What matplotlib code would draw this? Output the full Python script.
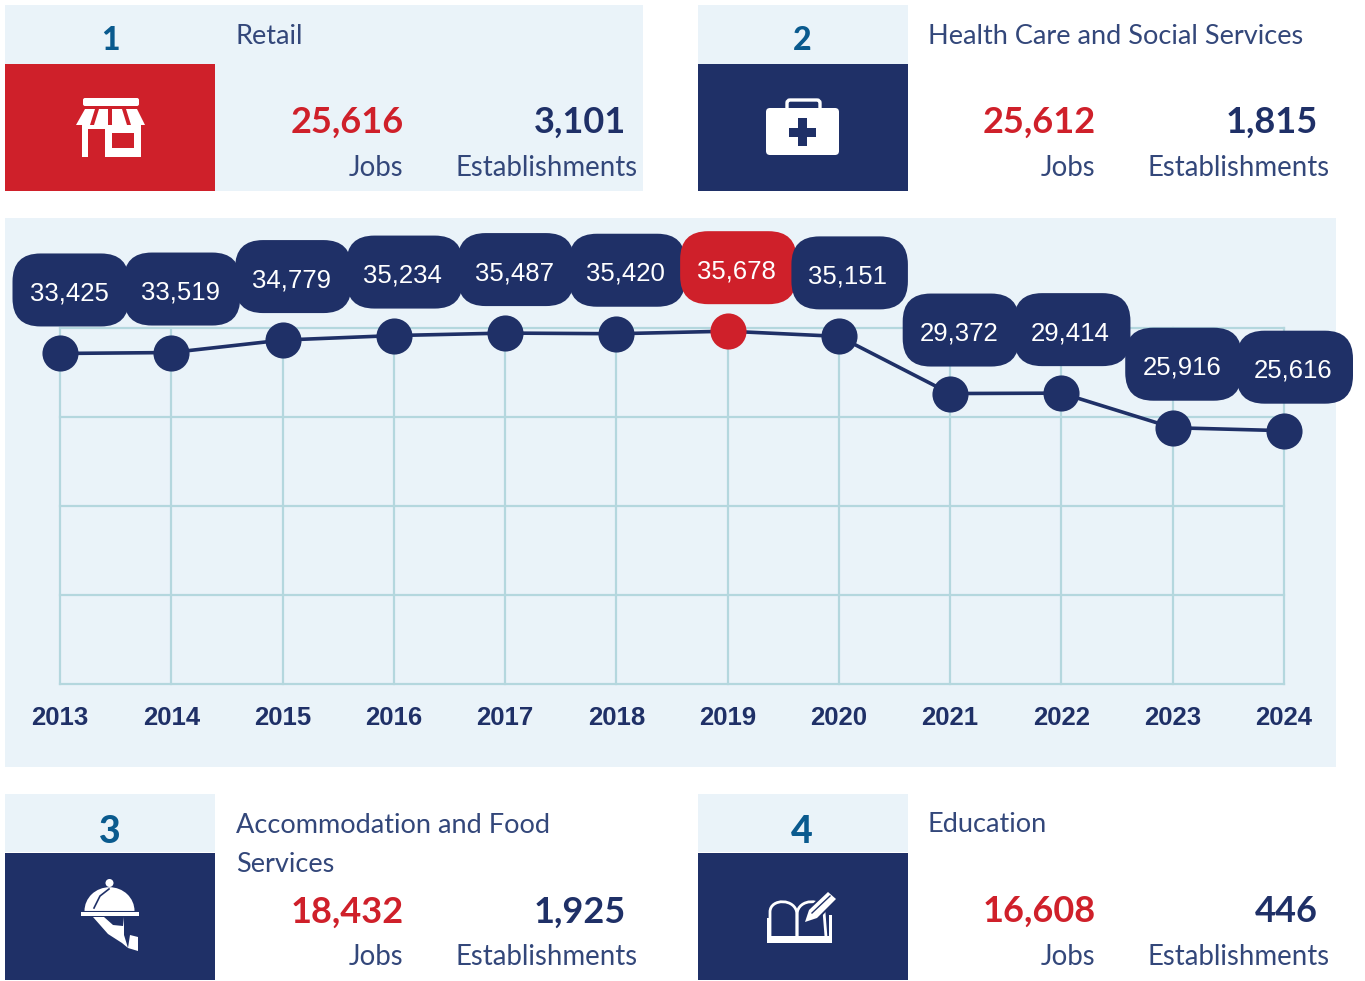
from matplotlib import pyplot as plt
from matplotlib.patches import Rectangle, FancyBboxPatch, Polygon, Circle, PathPatch, Wedge
from matplotlib.path import Path
from matplotlib.transforms import Affine2D

W, H = 1365, 981
NAVY = '#1F3067'
RED = '#CF202A'
PALE = '#EAF3F9'
GRID = '#B4D7DE'
RANK = '#0A5A8E'
LABEL = '#33477A'

years = [2013, 2014, 2015, 2016, 2017, 2018, 2019, 2020, 2021, 2022, 2023, 2024]
jobs = [33425, 33519, 34779, 35234, 35487, 35420, 35678, 35151, 29372, 29414, 25916, 25616]
peak_year = 2019

ranks = ['1', '2', '3', '4']
sectors = ['Retail', 'Health Care and Social Services',
           'Accommodation and Food\nServices', 'Education']
sector_jobs = ['25,616', '25,612', '18,432', '16,608']
sector_estab = ['3,101', '1,815', '1,925', '446']

fig = plt.figure(figsize=(W / 100, H / 100), dpi=100, facecolor='white')

# whole page in image pixels, y going down
page = fig.add_axes([0, 0, 1, 1], zorder=0)
page.set_xlim(0, W)
page.set_ylim(H, 0)
page.axis('off')


def box(x0, y0, x1, y1, color):
    page.add_patch(Rectangle((x0, y0), x1 - x0, y1 - y0, fc=color, ec='none'))


def store_icon():
    w = 'white'
    page.add_patch(FancyBboxPatch((83, 98), 56, 8, boxstyle='round,pad=0,rounding_size=2', fc=w, ec='none'))
    top = [83, 97, 110, 124, 139]
    bot = [74, 92, 110, 129, 147]
    for i in range(4):
        gap = 2
        page.add_patch(Polygon([(top[i] + gap, 109), (top[i + 1] - gap, 109),
                                (bot[i + 1] - gap, 125), (bot[i] + gap, 125)], fc=w, ec='none'))
    box(82, 125, 141, 129, w)
    box(82, 125, 88, 157, w)
    box(105, 125, 141, 157, w)
    box(112, 133, 134, 148, RED)


def medkit_icon():
    w = 'white'
    page.add_patch(FancyBboxPatch((787, 100), 33, 14, boxstyle='round,pad=0,rounding_size=3',
                                  fc='none', ec=w, lw=2.4))
    page.add_patch(FancyBboxPatch((766, 108), 73, 47, boxstyle='round,pad=0,rounding_size=4', fc=w, ec='none'))
    box(789, 127.5, 816, 137, NAVY)
    box(798, 118, 807, 146, NAVY)


def cloche_icon():
    w = 'white'
    page.add_patch(Circle((109.5, 883), 4, fc=w, ec='none'))
    page.add_patch(Wedge((109.5, 911), 25, 180, 360, fc=w, ec='none',
                         transform=Affine2D().scale(1, 0.95).translate(0, 45.5) + page.transData))
    page.plot([94, 100, 109], [908, 896, 889], color=NAVY, lw=1.2)
    box(81, 912, 139, 916, w)
    page.add_patch(Polygon([(93, 917), (104, 917), (113, 925), (123, 926), (124, 917), (124, 935),
                            (128, 948), (122, 943), (108, 934)], fc=w, ec='none'))
    page.add_patch(Polygon([(130, 935), (138, 937), (138, 951), (128, 948)], fc=w, ec='none'))


def book_icon():
    w = 'white'
    left = Path([(770, 937), (770, 912), (770, 898), (796, 898), (797, 914), (797, 937)],
                [Path.MOVETO, Path.LINETO, Path.CURVE4, Path.CURVE4, Path.CURVE4, Path.LINETO])
    right = Path([(797, 937), (797, 914), (798, 898), (824, 898), (824, 912), (826, 937)],
                 [Path.MOVETO, Path.LINETO, Path.CURVE4, Path.CURVE4, Path.CURVE4, Path.LINETO])
    page.add_patch(PathPatch(left, fc='none', ec=w, lw=2))
    page.add_patch(PathPatch(right, fc='none', ec=w, lw=2))
    box(767, 936, 832, 943, w)
    box(767, 918, 770, 943, w)
    box(829, 915, 832, 943, w)
    page.add_patch(Polygon([(803, 925), (808, 908), (829, 889), (839, 898), (819, 919)], fc=NAVY, ec='none'))
    page.add_patch(Polygon([(805, 922), (809, 910), (828, 892), (836, 899), (817, 918)], fc=w, ec='none'))
    page.plot([812, 830], [913, 896], color=NAVY, lw=1)


# pale backgrounds and icon squares
box(5, 5, 643, 191, PALE)
box(5, 64, 215, 191, RED)
box(698, 5, 908, 64, PALE)
box(698, 64, 908, 191, NAVY)
box(5, 794, 215, 852, PALE)
box(5, 853, 215, 980, NAVY)
box(698, 794, 908, 852, PALE)
box(698, 853, 908, 980, NAVY)
box(5, 218, 1336, 767, PALE)

store_icon()
medkit_icon()
cloche_icon()
book_icon()

# text blocks of the four sector panels
panel_x = [0, 692, 0, 692]
panel_y = [0, 0, 789, 789]
rank_y = [40, 40, 832, 832]
rank_size = [23, 23, 27, 27]
num_y = [122, 122, 912, 911]
for i in range(4):
    dx, dy = panel_x[i], panel_y[i]
    page.text(110 + dx, rank_y[i], ranks[i], color=RANK, fontsize=rank_size[i], family='Lato',
              weight='black', ha='center', va='center')
    title_y = 845 if i == 2 else 36 + dy
    page.text(236 + dx, title_y, sectors[i], color=LABEL, fontsize=19.5, family='Lato',
              ha='left', va='center', linespacing=1.7)
    page.text(404 + dx, num_y[i], sector_jobs[i], color=RED, fontsize=26, family='Lato',
              weight='bold', ha='right', va='center')
    page.text(626 + dx, num_y[i], sector_estab[i], color=NAVY, fontsize=26, family='Lato',
              weight='bold', ha='right', va='center')
    page.text(403 + dx, 168 + dy, 'Jobs', color=LABEL, fontsize=19.9, family='Lato',
              ha='right', va='center')
    page.text(638 + dx, 168 + dy, 'Establishments', color=LABEL, fontsize=19.9, family='Lato',
              ha='right', va='center')

# line chart on its own axes
ax = fig.add_axes([60 / W, (H - 684) / H, 1224 / W, 356 / H], zorder=1)
ax.set_facecolor('none')
ax.set_xlim(2013, 2024)
ax.set_ylim(0, 36000)
ax.set_xticks(years)
ax.set_yticks(range(0, 36001, 9000))
ax.set_yticklabels([])
ax.grid(True, color=GRID, lw=1.6)
ax.set_axisbelow(True)
for line in ax.get_xgridlines() + ax.get_ygridlines():
    line.set_clip_on(False)
for s in ax.spines.values():
    s.set_visible(False)
ax.tick_params(length=0, pad=15.7)
for t in ax.get_xticklabels():
    t.set_family('Liberation Sans')
    t.set_weight('bold')
    t.set_fontsize(18.5)
    t.set_color(NAVY)

ax.plot(years, jobs, color=NAVY, lw=2.6, zorder=3, clip_on=False)
for k, (yr, val) in enumerate(zip(years, jobs)):
    col = RED if yr == peak_year else NAVY
    ax.plot([yr], [val], 'o', color=col, ms=26, mew=0, zorder=4, clip_on=False)
    px, py = ax.transData.transform((yr, val))
    pill = FancyBboxPatch((-47.5, 27), 116.5, 73, boxstyle='round,pad=0,rounding_size=28',
                          fc=col, ec='none', clip_on=False, zorder=5 + k * 0.01,
                          transform=Affine2D().translate(px, py))
    ax.add_patch(pill)
    ax.annotate(f'{val:,}', (yr, val), xytext=(9, 60), textcoords='offset pixels',
                ha='center', va='center', color='white', fontsize=18.5,
                family='Liberation Sans', zorder=6, annotation_clip=False)

fig.savefig('out.png', dpi=100, facecolor='white')
